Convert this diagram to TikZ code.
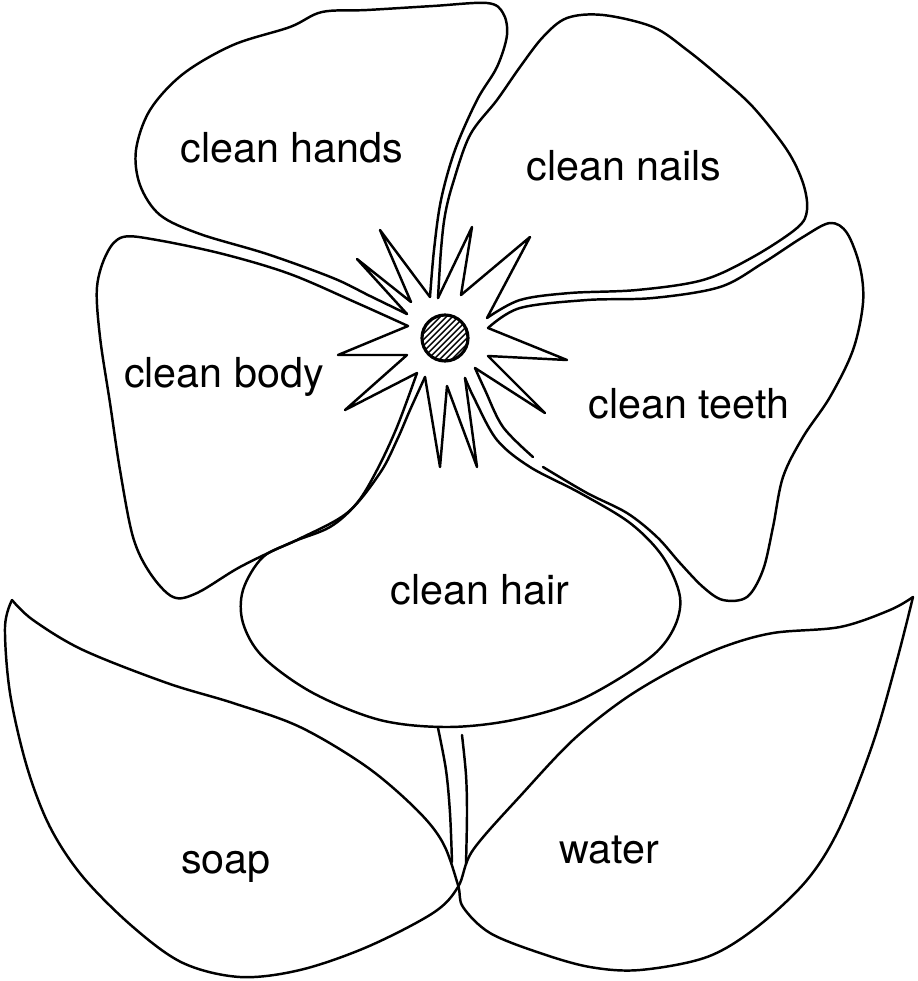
\documentclass[tikz,border=0pt]{standalone}
\usepackage{fontspec}
\setmainfont{TeX Gyre Heros}

\begin{document}
\begin{tikzpicture}[x=0.2mm,y=-0.2mm,line width=1.4pt,line join=round,line cap=round]
\tikzset{petal/.style={smooth,tension=0.55}}
\tikzset{word/.style={anchor=base,font=\fontsize{23.5}{28}\selectfont}}
\useasboundingbox (0,0) rectangle (917,981);

% the five petals, each one open where it meets the star
\draw plot[petal] coordinates {(407,314) (370,296) (333,278) (267,254) (200,234) (160,215) (140,185) (136,150) (150,110) (183,74) (233,45) (290,27) (322,12) (367,10) (433,6) (487,3) (503,13) (507,35) (497,67) (477,100) (455,150) (441,200) (434,250) (430,297)};
\draw plot[petal] coordinates {(438,298) (441,250) (445,215) (453,183) (470,135) (497,100) (520,67) (543,37) (567,18) (603,15) (653,27) (687,50) (720,77) (753,107) (787,150) (803,183) (807,210) (797,228) (753,257) (703,280) (637,290) (570,293) (520,300) (487,318)};
\draw plot[petal] coordinates {(488,328) (520,308) (587,300) (653,298) (720,287) (763,263) (803,237) (830,223) (847,233) (860,267) (863,303) (853,350) (830,397) (803,437) (783,477) (773,527) (763,570) (747,597) (723,600) (703,587) (680,563) (657,537) (627,513) (587,493) (543,467)};
\draw plot[petal] coordinates {(533,457) (503,427) (485,390) (475,368)};
\draw plot[petal] coordinates {(408,326) (357,303) (290,274) (223,254) (157,240) (123,237) (107,253) (97,287) (100,337) (110,403) (120,470) (133,537) (150,573) (173,597) (197,593) (240,567) (290,543) (330,527) (357,503) (377,470) (397,427) (417,373)};
\draw plot[petal] coordinates {(425,377) (410,410) (397,440) (380,473) (347,513) (297,540) (263,557) (243,590) (243,623) (263,657) (313,693) (380,720) (447,727) (513,720) (580,700) (647,660) (673,630) (680,597) (663,557) (630,523) (580,493) (530,467) (497,440) (475,400) (465,378)};

% star round the middle
\draw (438,298) -- (472,227) -- (461,295) -- (530,237) -- (487,318);
\draw (488,328) -- (567,360) -- (488,356) -- (545,413) -- (475,368);
\draw (465,378) -- (477,467) -- (447,386) -- (440,467) -- (425,377);
\draw (417,373) -- (345,410) -- (407,355) -- (338,355) -- (408,326);
\draw (407,314) -- (357,259) -- (411,302) -- (380,230) -- (430,297);

% hatched dot
\begin{scope}
  \clip (445,338) circle (23);
  \foreach \d in {-44,-38,...,44}
    \draw[line width=0.8pt] (445+\d-30,368) -- (445+\d+30,308);
\end{scope}
\draw[line width=1.8pt] (445,338) circle (23);

% stem
\draw plot[petal] coordinates {(438,728) (446,770) (450,813) (452,862)};
\draw plot[petal] coordinates {(462,735) (466,775) (467,813) (466,864)};

% leaves, crossing under the stem
\draw plot[petal] coordinates {(12,600) (33,620) (83,650) (167,683) (233,703) (300,727) (367,767) (417,810) (443,843) (458,885) (463,907) (490,933) (540,953) (590,967) (640,970) (707,957) (757,927) (807,880) (840,827) (873,743) (897,660) (913,597)};
\draw plot[petal] coordinates {(913,597) (890,610) (840,627) (773,633) (723,647) (673,670) (623,700) (573,740) (523,793) (473,850) (458,887) (433,913) (367,947) (300,970) (240,977) (183,963) (133,927) (83,877) (50,827) (27,767) (10,693) (5,627) (12,600)};

\node[word] (hands) at (292,162) {clean hands};
\node[word] (nails) at (624,180) {clean nails};
\node[word] (body)  at (224,387) {clean body};
\node[word] (teeth) at (689,418) {clean teeth};
\node[word] (hair)  at (480,604) {clean hair};
\node[word] (soap)  at (226,873) {soap};
\node[word] (water) at (609,863) {water};
\end{tikzpicture}
\end{document}
